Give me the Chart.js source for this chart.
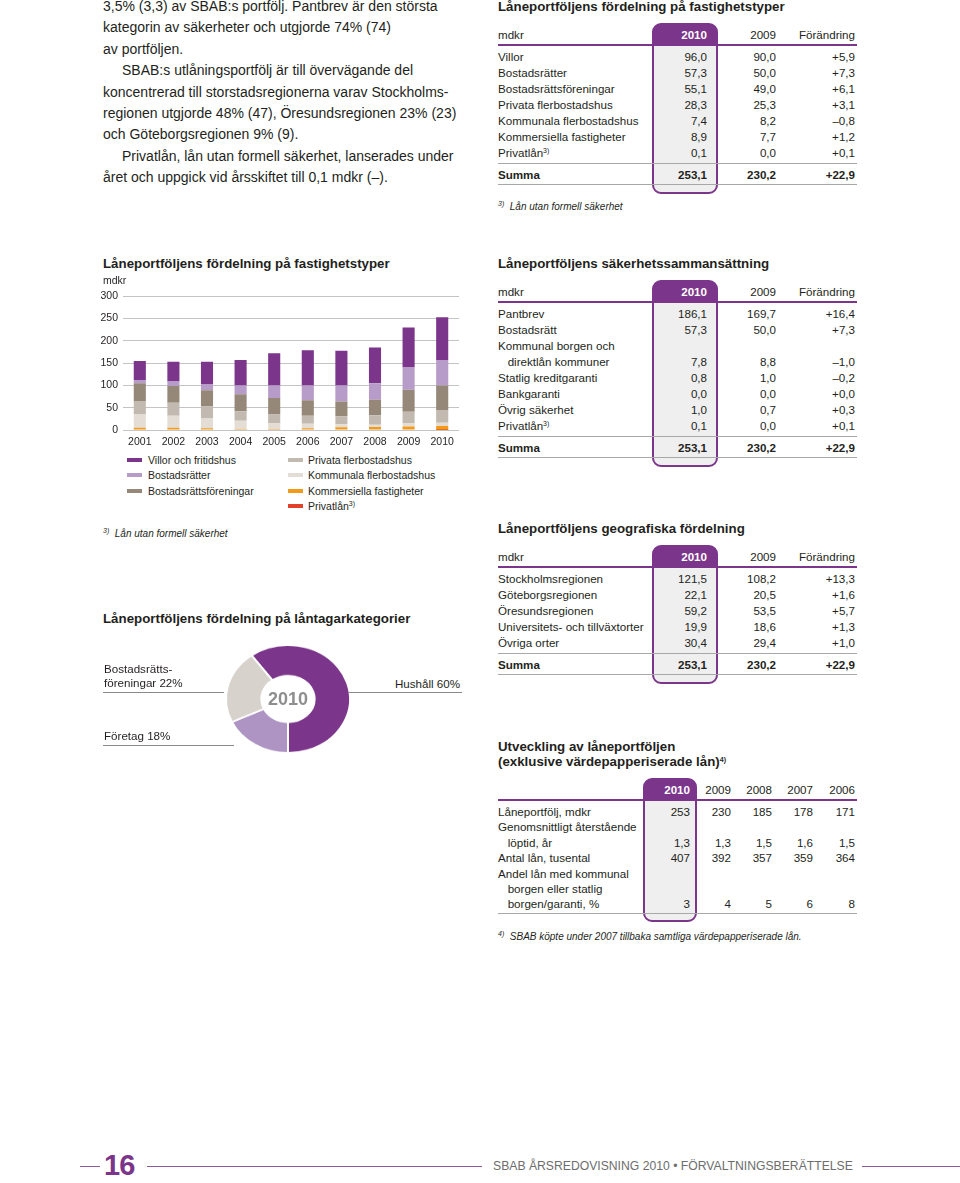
<!DOCTYPE html>
<html>
<head>
<meta charset="utf-8">
<script src="https://cdn.jsdelivr.net/npm/chart.js@4.4.0/dist/chart.umd.min.js"></script>
<style>
  body { margin:0; width:960px; height:1183px; position:relative; overflow:hidden; background:#fff;
         font-family:"Liberation Sans", Arial, sans-serif; color:#231f20; }
  .t { position:absolute; white-space:nowrap; line-height:14px; }
  .body { position:absolute; left:103px; top:-4px; font-size:14px; line-height:21.4px; white-space:nowrap; }
  .body .ind { padding-left:19px; }
  .title { font-weight:bold; font-size:13.3px; }
  .cell { font-size:11.6px; }
  .box { position:absolute; border:2px solid #7b358a; border-radius:9px; box-sizing:border-box; }
  .hr { position:absolute; height:0; }
  sup { font-size:7px; vertical-align:4px; line-height:0; }
  .foot { font-style:italic; font-size:10px; }
  .lg { font-size:10.5px; }
  .sw { position:absolute; width:15px; height:4px; }
</style>
</head>
<body>

<div class="body">
  3,5% (3,3) av SBAB:s portfölj. Pantbrev är den största<br>
  kategorin av säkerheter och utgjorde 74% (74)<br>
  av portföljen.<br>
  <span class="ind">SBAB:s utlåningsportfölj är till övervägande del</span><br>
  koncentrerad till storstadsregionerna varav Stockholms-<br>
  regionen utgjorde 48% (47), Öresundsregionen 23% (23)<br>
  och Göteborgsregionen 9% (9).<br>
  <span class="ind">Privatlån, lån utan formell säkerhet, lanserades under</span><br>
  året och uppgick vid årsskiftet till 0,1 mdkr (–).
</div>

<canvas id="barChart" width="370" height="165" style="position:absolute;left:95px;top:285px;"></canvas>
<canvas id="pieChart" width="140" height="140" style="position:absolute;left:218px;top:629px;transform:scaleY(0.87);transform-origin:center;"></canvas>

<script>
// Bar chart: Låneportföljens fördelning på fastighetstyper (mdkr)
const years = ['2001', '2002', '2003', '2004', '2005', '2006', '2007', '2008', '2009', '2010'];
const villor       = [43, 44, 51, 57, 72, 79, 78, 80, 90.0, 96.0];
const bostadsratter = [7, 10, 13, 20, 28, 33, 36, 37, 50.0, 57.3];
const brf          = [40, 38, 36, 38, 37, 35, 33, 35, 49.0, 55.1];
const privata      = [30, 29, 27, 21, 20, 18, 18, 21, 25.3, 28.3];
const kommunala    = [30, 27, 22, 19, 13, 10, 7, 5, 8.2, 7.4];
const kommersiella = [5, 5, 4, 2, 2, 4, 6, 7, 7.7, 8.9];
const privatlan    = [0, 0, 0, 0, 0, 0, 0, 0, 0.0, 0.1];
const yTicks = [0, 50, 100, 150, 200, 250, 300];

// Doughnut: Låneportföljens fördelning på låntagarkategorier 2010 (%)
const pieLabels = ['Hushåll', 'Företag', 'Bostadsrättsföreningar'];
const pieValues = [60, 18, 22];

// Tables
const fastLabels = ['Villor', 'Bostadsrätter', 'Bostadsrättsföreningar', 'Privata flerbostadshus',
  'Kommunala flerbostadshus', 'Kommersiella fastigheter', 'Privatlån<sup>3)</sup>'];
const fast2010 = ['96,0', '57,3', '55,1', '28,3', '7,4', '8,9', '0,1'];
const fast2009 = ['90,0', '50,0', '49,0', '25,3', '8,2', '7,7', '0,0'];
const fastChange = ['+5,9', '+7,3', '+6,1', '+3,1', '–0,8', '+1,2', '+0,1'];

const sakLabels = ['Pantbrev', 'Bostadsrätt', 'Kommunal borgen och', '&nbsp;&nbsp;&nbsp;direktlån kommuner',
  'Statlig kreditgaranti', 'Bankgaranti', 'Övrig säkerhet', 'Privatlån<sup>3)</sup>'];
const sak2010 = ['186,1', '57,3', '', '7,8', '0,8', '0,0', '1,0', '0,1'];
const sak2009 = ['169,7', '50,0', '', '8,8', '1,0', '0,0', '0,7', '0,0'];
const sakChange = ['+16,4', '+7,3', '', '–1,0', '–0,2', '+0,0', '+0,3', '+0,1'];

const geoLabels = ['Stockholmsregionen', 'Göteborgsregionen', 'Öresundsregionen',
  'Universitets- och tillväxtorter', 'Övriga orter'];
const geo2010 = ['121,5', '22,1', '59,2', '19,9', '30,4'];
const geo2009 = ['108,2', '20,5', '53,5', '18,6', '29,4'];
const geoChange = ['+13,3', '+1,6', '+5,7', '+1,3', '+1,0'];

const sumRow = ['Summa', '253,1', '230,2', '+22,9'];

const utvYears = ['2010', '2009', '2008', '2007', '2006'];
const utvLabels = ['Låneportfölj, mdkr', 'Genomsnittligt återstående', '&nbsp;&nbsp;&nbsp;löptid, år',
  'Antal lån, tusental', 'Andel lån med kommunal', '&nbsp;&nbsp;&nbsp;borgen eller statlig',
  '&nbsp;&nbsp;&nbsp;borgen/garanti, %'];
const utvValues = [
  ['253', '230', '185', '178', '171'],
  ['', '', '', '', ''],
  ['1,3', '1,3', '1,5', '1,6', '1,5'],
  ['407', '392', '357', '359', '364'],
  ['', '', '', '', ''],
  ['', '', '', '', ''],
  ['3', '4', '5', '6', '8']
];

const PURPLE = '#7b358a';

function addText(html, x, cy, cls, opts) {
  opts = opts || {};
  const d = document.createElement('div');
  d.className = 't ' + (cls || '');
  d.innerHTML = html;
  d.style.top = (cy - 7) + 'px';
  if (opts.right) d.style.right = (960 - x) + 'px';
  else d.style.left = x + 'px';
  if (opts.bold) d.style.fontWeight = 'bold';
  if (opts.color) d.style.color = opts.color;
  document.body.appendChild(d);
  return d;
}

function addLine(x1, x2, y, w, color) {
  const d = document.createElement('div');
  d.className = 'hr';
  d.style.left = x1 + 'px';
  d.style.width = (x2 - x1) + 'px';
  d.style.top = (y - w / 2) + 'px';
  d.style.borderTop = w + 'px solid ' + color;
  document.body.appendChild(d);
}

function addBox(x1, x2, y1, y2) {
  const d = document.createElement('div');
  d.className = 'box';
  d.style.left = x1 + 'px';
  d.style.top = y1 + 'px';
  d.style.width = (x2 - x1) + 'px';
  d.style.height = (y2 - y1) + 'px';
  d.style.background = 'linear-gradient(' + PURPLE + ' 0 21px, #efefef 21px)';
  document.body.appendChild(d);
}

// cfg: headerY, cols (right edges), header, labels, columns (array of value arrays), step, sum, box
function drawTable(cfg) {
  const left = 498, right = 857;
  const lineY = cfg.headerY + 10;
  const first = cfg.headerY + 22;
  const last = first + cfg.step * (cfg.labels.length - 1);
  let bottom;
  if (cfg.sum) {
    const l1 = last + 11, sy = l1 + 11, l2 = sy + 10;
    bottom = l2 + 9;
    addBox(cfg.box[0], cfg.box[1], cfg.headerY - 12, bottom);
    addLine(left, right, l1, 1.5, '#a8a8a8');
    addLine(left, right, l2, 1.5, '#a8a8a8');
    addText(cfg.sum[0], left, sy, 'cell', { bold: true });
    cfg.cols.forEach((c, j) => addText(cfg.sum[j + 1], c, sy, 'cell', { right: true, bold: true }));
  } else {
    const l1 = last + 9;
    bottom = l1 + 9;
    addBox(cfg.box[0], cfg.box[1], cfg.headerY - 12, bottom);
    addLine(left, right, l1, 1.5, '#a8a8a8');
  }
  addLine(left, right, lineY, 2, PURPLE);
  addText(cfg.header[0], left, cfg.headerY, 'cell');
  cfg.cols.forEach((c, j) => addText(cfg.header[j + 1], c, cfg.headerY, 'cell',
    j === 0 ? { right: true, bold: true, color: '#fff' } : { right: true }));
  cfg.labels.forEach((lab, i) => {
    const y = first + cfg.step * i;
    addText(lab, left, y, 'cell');
    cfg.columns.forEach((col, j) => { if (col[i]) addText(col[i], cfg.cols[j], y, 'cell', { right: true }); });
  });
}

// titles
addText('Låneportföljens fördelning på fastighetstyper', 498, 7, 'title');
addText('Låneportföljens säkerhetssammansättning', 498, 264, 'title');
addText('Låneportföljens geografiska fördelning', 498, 529, 'title');
addText('Utveckling av låneportföljen', 498, 747, 'title');
addText('(exklusive värdepapperiserade lån)<sup>4)</sup>', 498, 762, 'title');
addText('Låneportföljens fördelning på fastighetstyper', 103, 264, 'title');
addText('Låneportföljens fördelning på låntagarkategorier', 103, 619, 'title');

const head3 = ['mdkr', '2010', '2009', 'Förändring'];
drawTable({ headerY: 35, cols: [707, 776, 855], header: head3, labels: fastLabels,
  columns: [fast2010, fast2009, fastChange], step: 16, sum: sumRow, box: [652, 718] });
drawTable({ headerY: 292, cols: [707, 776, 855], header: head3, labels: sakLabels,
  columns: [sak2010, sak2009, sakChange], step: 16, sum: sumRow, box: [652, 718] });
drawTable({ headerY: 557, cols: [707, 776, 855], header: head3, labels: geoLabels,
  columns: [geo2010, geo2009, geoChange], step: 16, sum: sumRow, box: [652, 718] });
drawTable({ headerY: 790, cols: [690, 731, 772, 813, 855], header: [''].concat(utvYears), labels: utvLabels,
  columns: utvYears.map((y, j) => utvValues.map(r => r[j])), step: 15.4, sum: null, box: [643, 697] });

addText('<sup>3)</sup>&nbsp; Lån utan formell säkerhet', 498, 207, 'foot');
addText('<sup>4)</sup>&nbsp; SBAB köpte under 2007 tillbaka samtliga värdepapperiserade lån.', 498, 937, 'foot');
addText('<sup>3)</sup>&nbsp; Lån utan formell säkerhet', 103, 534, 'foot');
addText('mdkr', 103, 280, 'lg');

// bar chart
const barSets = [
  { label: 'Privatlån<sup>3)</sup>', data: privatlan, color: '#e2412c' },
  { label: 'Kommersiella fastigheter', data: kommersiella, color: '#f29a1a' },
  { label: 'Kommunala flerbostadshus', data: kommunala, color: '#e3ddd6' },
  { label: 'Privata flerbostadshus', data: privata, color: '#c2bab1' },
  { label: 'Bostadsrättsföreningar', data: brf, color: '#968878' },
  { label: 'Bostadsrätter', data: bostadsratter, color: '#b79bc9' },
  { label: 'Villor och fritidshus', data: villor, color: PURPLE }
];

new Chart(document.getElementById('barChart'), {
  type: 'bar',
  data: {
    labels: years,
    datasets: barSets.map(s => ({
      label: s.label, data: s.data, backgroundColor: s.color,
      borderWidth: 0, barPercentage: 0.36, categoryPercentage: 1
    }))
  },
  options: {
    responsive: false,
    animation: false,
    layout: { padding: { top: 10, right: 6, left: 0, bottom: 0 } },
    plugins: { legend: { display: false }, tooltip: { enabled: false } },
    scales: {
      x: {
        stacked: true,
        grid: { display: false },
        border: { display: false },
        ticks: { color: '#231f20', font: { family: 'Liberation Sans', size: 10.5 }, padding: -2 },
        afterFit: s => { s.height = 20; }
      },
      y: {
        stacked: true, min: 0, max: 300,
        afterBuildTicks: s => { s.ticks = yTicks.map(v => ({ value: v })); },
        grid: { color: '#c4c4c4', drawTicks: false },
        border: { display: false },
        ticks: { color: '#231f20', font: { family: 'Liberation Sans', size: 10.5 }, padding: 5 },
        afterFit: s => { s.width = 28; }
      }
    }
  }
});

// legend in two columns, order as in the reference
const legendLeft = [6, 5, 4], legendRight = [3, 2, 1, 0];
legendLeft.forEach((k, i) => {
  const y = 460 + i * 15.3;
  const sw = document.createElement('div');
  sw.className = 'sw'; sw.style.left = '127px'; sw.style.top = (y - 2) + 'px';
  sw.style.background = barSets[k].color;
  document.body.appendChild(sw);
  addText(barSets[k].label, 148, y, 'lg');
});
legendRight.forEach((k, i) => {
  const y = 460 + i * 15.3;
  const sw = document.createElement('div');
  sw.className = 'sw'; sw.style.left = '288px'; sw.style.top = (y - 2) + 'px';
  sw.style.background = barSets[k].color;
  document.body.appendChild(sw);
  addText(barSets[k].label, 308, y, 'lg');
});

// doughnut
new Chart(document.getElementById('pieChart'), {
  type: 'doughnut',
  data: {
    labels: pieLabels,
    datasets: [{
      data: pieValues,
      backgroundColor: [PURPLE, '#ae94c3', '#d7d2cc'],
      borderColor: '#fff', borderWidth: 2
    }]
  },
  options: {
    responsive: false,
    animation: false,
    rotation: -36,
    cutout: '43%',
    layout: { padding: 7 },
    plugins: { legend: { display: false }, tooltip: { enabled: false } }
  }
});

addText('2010', 288, 699, '', { bold: true, color: '#8e8e8e' }).style.cssText +=
  'font-size:18px;line-height:14px;transform:translateX(-50%);';
addText('Bostadsrätts-', 104, 669, 'cell');
addText('föreningar ' + pieValues[2] + '%', 104, 683, 'cell');
addLine(103, 224, 692, 1, '#8a8a8a');
addText('Företag ' + pieValues[1] + '%', 104, 736, 'cell');
addLine(103, 234, 745, 1, '#8a8a8a');
addText('Hushåll ' + pieValues[0] + '%', 460, 684, 'cell', { right: true });
addLine(348, 462, 692, 1, '#8a8a8a');

// footer
addLine(80, 100, 1166, 1, '#8e5a9a');
addLine(147, 482, 1166, 1, '#8e5a9a');
addLine(862, 960, 1166, 1, '#8e5a9a');
addText('16', 104, 1165, '', { bold: true, color: PURPLE }).style.cssText +=
  'font-size:29px;line-height:14px;letter-spacing:-1px;';
addText('SBAB ÅRSREDOVISNING 2010 • FÖRVALTNINGSBERÄTTELSE', 493, 1166, '', { color: '#6d6d6d' }).style.fontSize = '12.2px';
</script>
</body>
</html>
